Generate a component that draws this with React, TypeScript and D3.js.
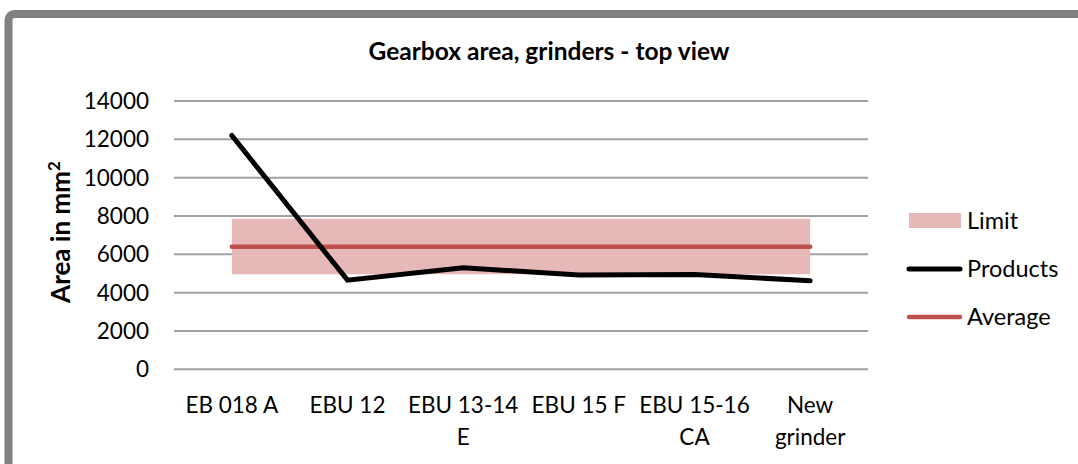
import React from "react";
import * as d3 from "d3";

const categories = ["EB 018 A", "EBU 12", "EBU 13-14 E", "EBU 15 F", "EBU 15-16 CA", "New grinder"];
const categoryLines = [["EB 018 A"], ["EBU 12"], ["EBU 13-14", "E"], ["EBU 15 F"], ["EBU 15-16", "CA"], ["New", "grinder"]];
const products = [12200, 4650, 5300, 4920, 4950, 4620];
const limitLow = [4960, 4960, 4960, 4960, 4960, 4960];
const limitHigh = [7850, 7850, 7850, 7850, 7850, 7850];
const average = [6400, 6400, 6400, 6400, 6400, 6400];
const yTicks = [0, 2000, 4000, 6000, 8000, 10000, 12000, 14000];
const legendItems = ["Limit", "Products", "Average"];

const FONT = "Lato, 'Open Sans', sans-serif";

export default function App() {
  const W = 1078, H = 464;
  const x = d3.scaleBand<string>().domain(categories).range([174, 868]).padding(0);
  const y = d3.scaleLinear().domain([0, 14000]).range([369.3, 101]);
  const cx = (i: number) => (x(categories[i]) as number) + x.bandwidth() / 2;

  const area = d3.area<number>()
    .x((_, i) => cx(i))
    .y0((_, i) => y(limitLow[i]))
    .y1((_, i) => y(limitHigh[i]));
  const line = d3.line<number>().x((_, i) => cx(i)).y((d) => y(d));

  return (
    <svg width={W} height={H} style={{ position: "absolute", left: 0, top: 0, background: "#fff" }} fontFamily={FONT}>
      <rect x={0} y={0} width={W} height={H} fill="#fff" />
      <rect x={8.5} y={14} width={1200} height={600} rx={6} fill="#fff" stroke="#808080" strokeWidth={8} />
      <text x={549} y={60} textAnchor="middle" fontSize={24.5} fontWeight="bold" fill="#000">
        Gearbox area, grinders - top view
      </text>
      {yTicks.map((t) => (
        <g key={t}>
          <line x1={174} x2={868} y1={y(t)} y2={y(t)} stroke="#a0a0a0" strokeWidth={2} />
          <text x={149} y={y(t)} dy="0.36em" textAnchor="end" fontSize={22.5} fill="#000">{t}</text>
        </g>
      ))}
      <text transform="translate(70,232) rotate(-90)" textAnchor="middle" fontSize={26} fontWeight="bold" fill="#000">
        Area in mm<tspan dy={-10} fontSize={17}>2</tspan>
      </text>
      <path d={area(limitLow) as string} fill="#e6b9b8" />
      <path d={line(average) as string} fill="none" stroke="#c0504d" strokeWidth={4.5} strokeLinecap="round" />
      <path d={line(products) as string} fill="none" stroke="#000" strokeWidth={5} strokeLinecap="round" strokeLinejoin="miter" />
      {categoryLines.map((lines, i) => (
        <text key={i} x={cx(i)} y={413} textAnchor="middle" fontSize={22.5} fill="#000">
          {lines.map((l, j) => (
            <tspan key={j} x={cx(i)} dy={j === 0 ? 0 : 32}>{l}</tspan>
          ))}
        </text>
      ))}
      <g>
        <rect x={909} y={213} width={52} height={15} fill="#e6b9b8" />
        <line x1={909} x2={960} y1={269} y2={269} stroke="#000" strokeWidth={5} strokeLinecap="round" />
        <line x1={909} x2={960} y1={317} y2={317} stroke="#c0504d" strokeWidth={4.5} strokeLinecap="round" />
        {legendItems.map((name, i) => (
          <text key={name} x={967} y={221 + i * 48} dy="0.36em" fontSize={23.5} fill="#000">{name}</text>
        ))}
      </g>
    </svg>
  );
}
